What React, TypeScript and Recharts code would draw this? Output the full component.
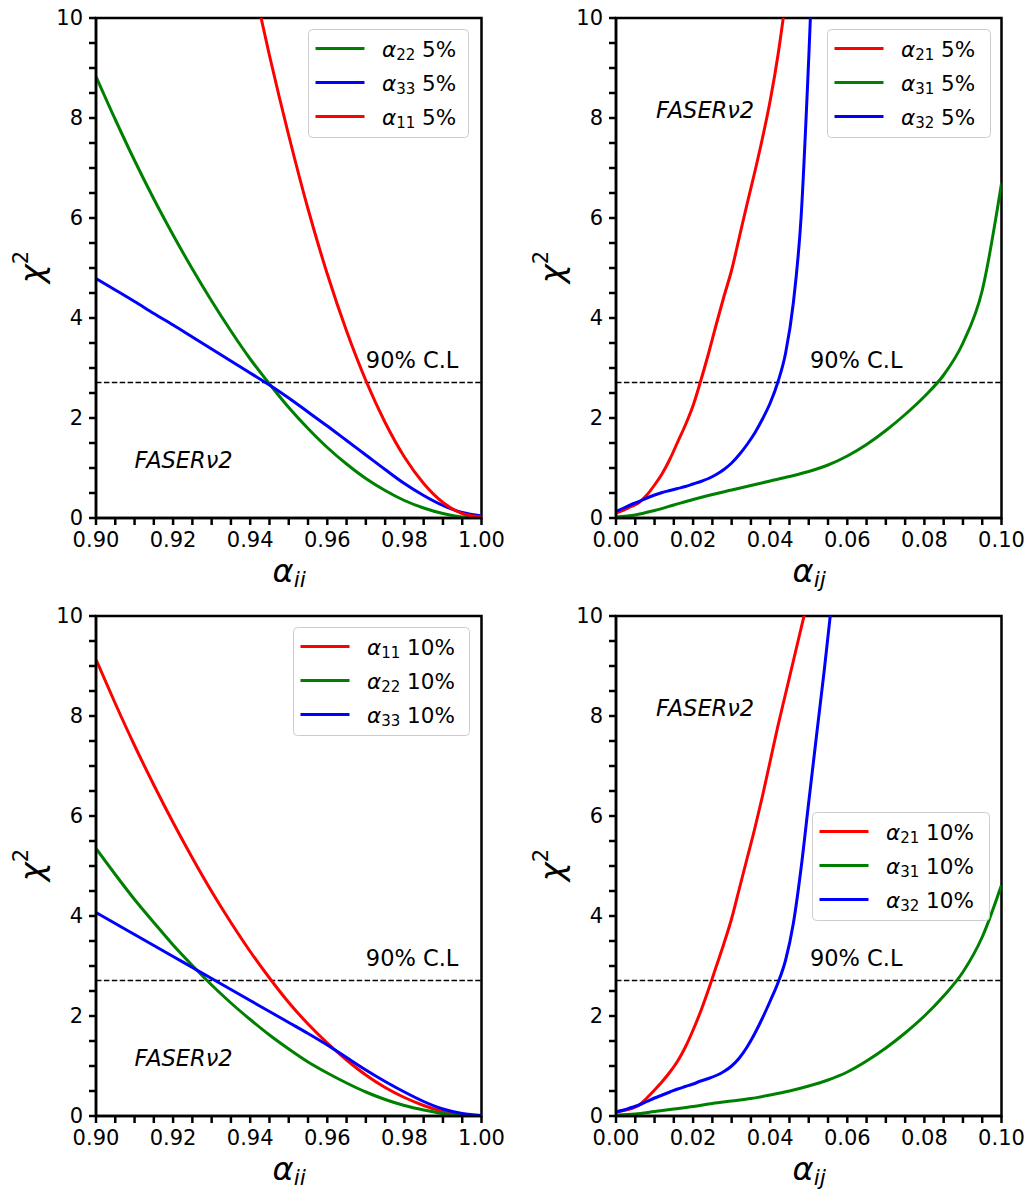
import React from 'react';
import {
  Legend,
  Line,
  LineChart,
  ReferenceArea,
  ReferenceDot,
  ReferenceLine,
  XAxis,
  YAxis,
} from 'recharts';

const FONT = '"DejaVu Sans", sans-serif';

// x grids
const DIAG_X = [0.9, 0.905, 0.91, 0.915, 0.92, 0.925, 0.93, 0.935, 0.94, 0.945, 0.95, 0.955, 0.96, 0.965, 0.97, 0.975, 0.98, 0.985, 0.99, 0.995, 1.0];
const OFF_X = [0, 0.002, 0.004, 0.006, 0.008, 0.01, 0.012, 0.014, 0.016, 0.018, 0.02, 0.022, 0.024, 0.026, 0.028, 0.03, 0.032, 0.034, 0.036, 0.038, 0.04, 0.042, 0.044, 0.046, 0.048, 0.05, 0.052, 0.054, 0.056, 0.058];
const OFF_XG = [0, 0.005, 0.01, 0.015, 0.02, 0.025, 0.03, 0.035, 0.04, 0.045, 0.05, 0.055, 0.06, 0.065, 0.07, 0.075, 0.08, 0.085, 0.09, 0.095, 0.1];

// ticks (majors get a label, the rest are minor)
const DIAG_TICKS = [0.9, 0.905, 0.91, 0.915, 0.92, 0.925, 0.93, 0.935, 0.94, 0.945, 0.95, 0.955, 0.96, 0.965, 0.97, 0.975, 0.98, 0.985, 0.99, 0.995, 1.0];
const OFF_TICKS = [0, 0.005, 0.01, 0.015, 0.02, 0.025, 0.03, 0.035, 0.04, 0.045, 0.05, 0.055, 0.06, 0.065, 0.07, 0.075, 0.08, 0.085, 0.09, 0.095, 0.1];
const Y_TICKS = [0, 0.5, 1, 1.5, 2, 2.5, 3, 3.5, 4, 4.5, 5, 5.5, 6, 6.5, 7, 7.5, 8, 8.5, 9, 9.5, 10];

const CL90 = 2.71;

// 5% diagonal
const A22_5 = [8.83, 7.97, 7.15, 6.38, 5.66, 4.98, 4.34, 3.74, 3.18, 2.68, 2.21, 1.79, 1.41, 1.08, 0.79, 0.55, 0.35, 0.2, 0.09, 0.02, 0.0];
const A33_5 = [4.79, 4.56, 4.33, 4.09, 3.86, 3.62, 3.38, 3.14, 2.9, 2.66, 2.4, 2.12, 1.84, 1.55, 1.26, 0.97, 0.69, 0.45, 0.25, 0.11, 0.04];
const A11_5 = [null, null, null, null, null, null, null, null, 10.98, 9.25, 7.65, 6.18, 4.88, 3.74, 2.75, 1.91, 1.22, 0.69, 0.31, 0.09, 0.02];

// 5% off-diagonal
const A21_5 = [0.1, 0.16, 0.23, 0.31, 0.46, 0.66, 0.89, 1.18, 1.52, 1.86, 2.25, 2.75, 3.29, 3.87, 4.43, 4.96, 5.62, 6.28, 6.92, 7.6, 8.35, 9.25, 10.35, null, null, null, null, null, null, null];
const A32_5 = [0.13, 0.2, 0.27, 0.33, 0.4, 0.46, 0.51, 0.55, 0.59, 0.63, 0.68, 0.73, 0.79, 0.87, 0.97, 1.1, 1.27, 1.47, 1.7, 1.98, 2.3, 2.72, 3.3, 4.3, 6.0, 9.2, 13.0, null, null, null];
const A31_5 = [0.02, 0.06, 0.15, 0.26, 0.37, 0.47, 0.56, 0.65, 0.74, 0.83, 0.93, 1.06, 1.24, 1.47, 1.75, 2.07, 2.43, 2.86, 3.5, 4.55, 6.69];

// 10% diagonal
const A11_10 = [9.13, 8.25, 7.41, 6.62, 5.87, 5.16, 4.49, 3.87, 3.29, 2.76, 2.27, 1.84, 1.46, 1.12, 0.82, 0.57, 0.37, 0.21, 0.09, 0.02, 0.0];
const A22_10 = [5.35, 4.83, 4.33, 3.87, 3.42, 3.01, 2.62, 2.26, 1.93, 1.62, 1.34, 1.08, 0.86, 0.66, 0.48, 0.33, 0.21, 0.12, 0.05, 0.01, 0.0];
const A33_10 = [4.07, 3.85, 3.63, 3.41, 3.19, 2.97, 2.75, 2.53, 2.31, 2.09, 1.87, 1.65, 1.42, 1.17, 0.92, 0.69, 0.48, 0.29, 0.14, 0.05, 0.01];

// 10% off-diagonal
const A21_10 = [0.09, 0.11, 0.15, 0.22, 0.36, 0.52, 0.69, 0.88, 1.1, 1.38, 1.72, 2.1, 2.53, 2.99, 3.45, 3.95, 4.55, 5.15, 5.75, 6.4, 7.1, 7.8, 8.45, 9.1, 9.75, 10.4, null, null, null, null];
const A32_10 = [0.08, 0.12, 0.17, 0.22, 0.29, 0.36, 0.42, 0.48, 0.54, 0.59, 0.64, 0.7, 0.75, 0.81, 0.89, 1.0, 1.16, 1.38, 1.65, 1.96, 2.3, 2.66, 3.12, 3.85, 4.95, 6.28, 7.6, 8.9, 10.3, null];
const A31_10 = [0.02, 0.04, 0.09, 0.14, 0.19, 0.25, 0.3, 0.35, 0.42, 0.5, 0.6, 0.72, 0.88, 1.1, 1.36, 1.66, 2.0, 2.4, 2.88, 3.58, 4.62];

const RED = '#ff0000';
const GREEN = '#008000';
const BLUE = '#0000ff';

type SeriesDef = {
  key: string;
  sub: string;
  pct: string;
  color: string;
  xs: number[];
  ys: (number | null)[];
};

type PanelDef = {
  left: number;
  top: number;
  width: number;
  domain: [number, number];
  ticks: number[];
  xSub: string;
  series: SeriesDef[];
  legend: { left: number; top: number; width: number };
  faser: [number, number];
  cl: [number, number];
};

const PANELS: PanelDef[] = [
  {
    left: 0, top: 0, width: 520, domain: [0.9, 1.0], ticks: DIAG_TICKS, xSub: 'ii',
    series: [
      { key: 'a22', sub: '22', pct: '5%', color: GREEN, xs: DIAG_X, ys: A22_5 },
      { key: 'a33', sub: '33', pct: '5%', color: BLUE, xs: DIAG_X, ys: A33_5 },
      { key: 'a11', sub: '11', pct: '5%', color: RED, xs: DIAG_X, ys: A11_5 },
    ],
    legend: { left: 307.7, top: 29, width: 161 },
    faser: [0.91, 1.0],
    cl: [0.97, 3.0],
  },
  {
    left: 520, top: 0, width: 512, domain: [0, 0.1], ticks: OFF_TICKS, xSub: 'ij',
    series: [
      { key: 'a21', sub: '21', pct: '5%', color: RED, xs: OFF_X, ys: A21_5 },
      { key: 'a31', sub: '31', pct: '5%', color: GREEN, xs: OFF_XG, ys: A31_5 },
      { key: 'a32', sub: '32', pct: '5%', color: BLUE, xs: OFF_X, ys: A32_5 },
    ],
    legend: { left: 307, top: 29, width: 164 },
    faser: [0.0104, 8.0],
    cl: [0.0503, 3.0],
  },
  {
    left: 0, top: 598, width: 520, domain: [0.9, 1.0], ticks: DIAG_TICKS, xSub: 'ii',
    series: [
      { key: 'a11', sub: '11', pct: '10%', color: RED, xs: DIAG_X, ys: A11_10 },
      { key: 'a22', sub: '22', pct: '10%', color: GREEN, xs: DIAG_X, ys: A22_10 },
      { key: 'a33', sub: '33', pct: '10%', color: BLUE, xs: DIAG_X, ys: A33_10 },
    ],
    legend: { left: 292.7, top: 29.3, width: 177 },
    faser: [0.91, 1.0],
    cl: [0.97, 3.0],
  },
  {
    left: 520, top: 598, width: 512, domain: [0, 0.1], ticks: OFF_TICKS, xSub: 'ij',
    series: [
      { key: 'a21', sub: '21', pct: '10%', color: RED, xs: OFF_X, ys: A21_10 },
      { key: 'a31', sub: '31', pct: '10%', color: GREEN, xs: OFF_XG, ys: A31_10 },
      { key: 'a32', sub: '32', pct: '10%', color: BLUE, xs: OFF_X, ys: A32_10 },
    ],
    legend: { left: 292.3, top: 213.7, width: 178 },
    faser: [0.0104, 8.0],
    cl: [0.0503, 3.0],
  },
];

const isMajor = (v: number, step: number) => Math.abs(v / step - Math.round(v / step)) < 1e-6;

const LegendBox = ({ items, width }: { items: SeriesDef[]; width: number }) => (
  <svg width={width} height={109} style={{ display: 'block' }}>
    <rect x={0.5} y={0.5} width={width - 1} height={108} rx={4} fill="rgba(255,255,255,0.8)" stroke="#cccccc" strokeWidth={1} />
    {items.map((s, i) => {
      const cy = 19.4 + i * 34;
      return (
        <g key={s.key}>
          <line x1={7.5} x2={56.5} y1={cy} y2={cy} stroke={s.color} strokeWidth={3} />
          <text x={74} y={cy + 8.3} fontFamily={FONT} fontSize={21.5} fill="#000">
            <tspan fontStyle="italic">α</tspan>
            <tspan fontSize={15} dy={3.5}>{s.sub}</tspan>
            <tspan dy={-3.5}>{'\u00a0' + s.pct}</tspan>
          </text>
        </g>
      );
    })}
  </svg>
);

const XLabel = (props: any) => {
  const vb = props.viewBox || { x: 0, y: 0, width: 0 };
  return (
    <text x={vb.x + vb.width / 2 + 0.5} y={vb.y + 64} textAnchor="middle" fontFamily={FONT} fontSize={32} fill="#000">
      <tspan fontStyle="italic">α</tspan>
      <tspan fontStyle="italic" fontSize={22} dy={5}>{props.sub}</tspan>
    </text>
  );
};

const YLabel = (props: any) => {
  const vb = props.viewBox || { x: 0, y: 0, height: 0 };
  const cx = vb.x + 42.5;
  const cy = vb.y + vb.height / 2 - 1;
  return (
    <text x={cx} y={cy} transform={`rotate(-90 ${cx} ${cy})`} textAnchor="middle" fontFamily={FONT} fontSize={32} fill="#000">
      <tspan fontStyle="italic">χ</tspan>
      <tspan fontSize={21} dy={-15}>2</tspan>
    </text>
  );
};

const Note = ({ text, italic }: { text: string; italic?: boolean }) => (props: any) => {
  const vb = props.viewBox || { x: 0, y: 0 };
  return (
    <text x={vb.x} y={vb.y} fontFamily={FONT} fontSize={22.5} fontStyle={italic ? 'italic' : 'normal'} fill="#000">
      {text}
    </text>
  );
};

const tickStyle = { fill: '#000', fontSize: 21, fontFamily: FONT };
const lineStyle = { stroke: '#000', strokeWidth: 2.5 };

const Panel = ({ cfg }: { cfg: PanelDef }) => (
  <div style={{ position: 'absolute', left: cfg.left, top: cfg.top }}>
    <LineChart width={cfg.width} height={600} margin={{ top: 18, right: cfg.width - 481.5, left: 0, bottom: 0 }}>
      <XAxis
        type="number"
        dataKey="x"
        domain={cfg.domain}
        ticks={cfg.ticks}
        interval={0}
        allowDataOverflow
        tickFormatter={(v: number) => (isMajor(v, 0.02) ? v.toFixed(2) : '')}
        tick={tickStyle}
        tickSize={7}
        tickMargin={7}
        axisLine={lineStyle}
        tickLine={lineStyle}
        height={82}
        label={(p: any) => <XLabel {...p} sub={cfg.xSub} />}
      />
      <YAxis
        type="number"
        domain={[0, 10]}
        ticks={Y_TICKS}
        interval={0}
        allowDataOverflow
        tickFormatter={(v: number) => (v % 2 === 0 ? String(v) : '')}
        tick={tickStyle}
        tickSize={7}
        tickMargin={6}
        axisLine={lineStyle}
        tickLine={lineStyle}
        width={96}
        label={(p: any) => <YLabel {...p} />}
      />
      <ReferenceLine y={CL90} stroke="#000" strokeWidth={1.5} strokeDasharray="5.5 2.4" />
      {cfg.series.map((s) => (
        <Line
          key={s.key}
          data={s.xs.map((x, i) => ({ x, y: s.ys[i] }))}
          dataKey="y"
          type="monotone"
          stroke={s.color}
          strokeWidth={3}
          dot={false}
          activeDot={false}
          isAnimationActive={false}
        />
      ))}
      <ReferenceArea
        x1={cfg.domain[0]}
        x2={cfg.domain[1]}
        y1={0}
        y2={10}
        fill="none"
        fillOpacity={0}
        stroke="#000"
        strokeWidth={2.5}
      />
      <ReferenceDot x={cfg.faser[0]} y={cfg.faser[1]} r={0} fill="none" stroke="none" label={Note({ text: 'FASERν2', italic: true })} />
      <ReferenceDot x={cfg.cl[0]} y={cfg.cl[1]} r={0} fill="none" stroke="none" label={Note({ text: '90% C.L' })} />
      <Legend
        layout="vertical"
        align="center"
        verticalAlign="middle"
        wrapperStyle={{ left: cfg.legend.left, top: cfg.legend.top, width: cfg.legend.width, height: 109 }}
        content={() => <LegendBox items={cfg.series} width={cfg.legend.width} />}
      />
    </LineChart>
  </div>
);

export default function App() {
  return (
    <div style={{ position: 'absolute', left: 0, top: 0, width: 1032, height: 1190, overflow: 'hidden', background: '#fff', fontFamily: FONT }}>
      {PANELS.map((p, i) => (
        <Panel key={i} cfg={p} />
      ))}
    </div>
  );
}
